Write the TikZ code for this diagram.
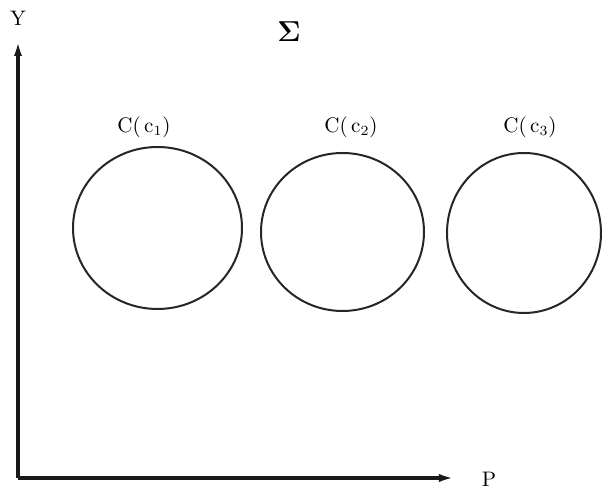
\documentclass[tikz,border=0pt]{standalone}
\usepackage{tikz}
\usetikzlibrary{positioning,arrows.meta,shapes.geometric}
\tikzset{
  cset/.style={ellipse, draw=black!85, line width=1pt, inner sep=0pt},
  lbl/.style={font=\fontsize{10.5}{12}\selectfont, inner sep=0pt},
  axis/.style={-{Latex[length=8pt,width=4pt]}, line width=1.6pt, draw=black!90}
}
\begin{document}
\begin{tikzpicture}[x=0.5pt,y=-0.5pt]
\useasboundingbox[fill=white] (0,0) rectangle (602,490);
% axes
\coordinate (o) at (18,478);
\coordinate (ytip) at (18,40);
\coordinate (ptip) at (455,478);
\node[lbl] (ylab) at (18,18) {Y};
\node[lbl] (plab) at (489,479) {P};
\draw[axis] (o) -- (ytip);
\draw[axis] (o) -- (ptip);
\node[font=\fontsize{15}{18}\selectfont, inner sep=0pt] (sig) at (289,32) {$\mathbf{\Sigma}$};
% the three sets
\node[cset, minimum width=84.5pt, minimum height=81pt] (c1) at (157.5,228) {};
\node[cset, minimum width=81.5pt, minimum height=79pt] (c2) at (342.5,232) {};
\node[cset, minimum width=77pt, minimum height=80pt] (c3) at (524,233) {};
\node[lbl] (l1) at (144,127) {C(\,c$_1$)};
\node[lbl] (l2) at (351,127) {C(\,c$_2$)};
\node[lbl] (l3) at (530,127) {C(\,c$_3$)};
\end{tikzpicture}
\end{document}
